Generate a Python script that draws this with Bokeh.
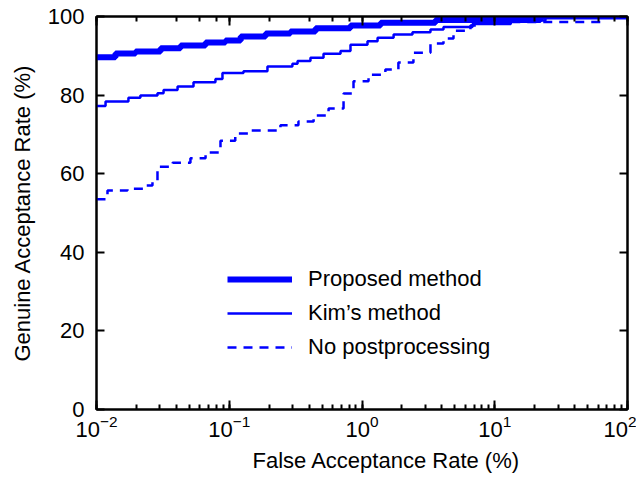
from bokeh.plotting import figure
from bokeh.models import LogAxis, LinearAxis, Title, CustomJSTickFormatter
from bokeh.embed import file_html
from bokeh.resources import INLINE

# ---- data (FAR in %, GAR in %) ----
proposed_far = [0.01, 0.0139, 0.0197, 0.0304, 0.0430, 0.0663, 0.0937, 0.122, 0.188, 0.289,
                0.447, 0.819, 1.38, 3.58, 22.1, 100]
proposed_gar = [89.6, 90.6, 91.1, 91.9, 92.6, 93.4, 93.9, 94.9, 95.7, 96.2,
                97.0, 97.7, 98.4, 99.1, 100, 100]

kim_far = [0.01, 0.0117, 0.0174, 0.0214, 0.0288, 0.0320, 0.0408, 0.0538, 0.0787, 0.0889,
           0.128, 0.194, 0.299, 0.327, 0.409, 0.513, 0.689, 0.819, 1.10, 1.31,
           1.73, 2.40, 3.28, 4.11, 6.80, 13.2, 24.1, 100]
kim_gar = [77.2, 78.4, 79.3, 79.9, 80.5, 81.3, 82.2, 83.3, 84.1, 85.6,
           86.1, 87.3, 88.0, 88.7, 89.5, 90.5, 91.2, 92.8, 93.7, 94.6,
           95.4, 96.0, 96.7, 97.3, 98.1, 99.0, 100, 100]

nopp_far = [0.01, 0.0121, 0.0171, 0.0226, 0.0264, 0.0288, 0.0374, 0.0510, 0.0663, 0.0859,
            0.111, 0.145, 0.243, 0.332, 0.432, 0.560, 0.726, 0.863, 1.12, 1.50,
            1.88, 2.44, 3.28, 4.11, 4.89, 6.56, 7.81, 62.6, 100]
nopp_gar = [53.5, 55.7, 56.2, 57.0, 58.3, 61.8, 62.8, 63.9, 65.4, 68.4,
            70.2, 71.0, 72.3, 73.3, 74.8, 76.6, 80.4, 83.5, 85.2, 86.5,
            88.3, 90.8, 93.1, 94.4, 96.4, 97.7, 98.6, 100, 100]

labels = ["Proposed method", "Kim\u2019s method", "No postprocessing"]
y_ticks = [0, 20, 40, 60, 80, 100]

BLUE = "#0000ff"
FONT = "Liberation Sans"

p = figure(width=636, height=483, x_axis_type="log", x_range=(0.01, 100), y_range=(0, 100),
           output_backend="svg", toolbar_location=None,
           min_border_left=96, min_border_right=9, min_border_top=16, min_border_bottom=74)
p.grid.visible = False
p.outline_line_color = "black"
p.outline_line_width = 2

p.step(nopp_far, nopp_gar, mode="after", line_color=BLUE, line_width=2.5,
       line_dash="9 7", legend_label=labels[2])
p.step(kim_far, kim_gar, mode="after", line_color=BLUE, line_width=2.5,
       legend_label=labels[1])
p.step(proposed_far, proposed_gar, mode="after", line_color=BLUE, line_width=6,
       legend_label=labels[0])

# mirror axes (no labels)
p.add_layout(LogAxis(formatter=CustomJSTickFormatter(code="return ''")), "above")
p.add_layout(LinearAxis(formatter=CustomJSTickFormatter(code="return ''")), "right")

for ax in p.axis:
    ax.axis_line_width = 2
    ax.major_tick_line_width = 2
    ax.minor_tick_line_width = 2
    ax.major_tick_out = 0
    ax.minor_tick_out = 0
    ax.major_label_text_font = FONT
    ax.major_label_text_font_size = "22px"
    ax.major_label_text_color = "black"
    ax.axis_label_text_font = FONT
    ax.axis_label_text_font_size = "22px"
    ax.axis_label_text_font_style = "normal"
    ax.axis_label_text_color = "black"

for ax in p.xaxis:
    ax.major_tick_in = 9
    ax.minor_tick_in = 5
for ax in p.yaxis:
    ax.major_tick_in = 8
    ax.minor_tick_in = 0
    ax.ticker = y_ticks

p.xaxis[0].major_label_standoff = 22
p.yaxis[0].major_label_standoff = 12
p.yaxis[0].axis_label = "Genuine Acceptance Rate (%)"
p.yaxis[0].axis_label_standoff = 10

for ax in (p.above[0], p.right[0]):
    ax.major_label_standoff = 0

p.add_layout(Title(text="False Acceptance Rate (%)", align="left", offset=156,
                   text_font=FONT, text_font_size="22px", text_font_style="normal",
                   text_color="black", standoff=12), "below")

lg = p.legend[0]
lg.location = (131, 49)
lg.label_text_font = FONT
lg.label_text_font_size = "22px"
lg.label_text_color = "black"
lg.glyph_width = 65
lg.glyph_height = 26
lg.label_standoff = 16
lg.spacing = 8
lg.padding = 0
lg.margin = 0
lg.border_line_color = None
lg.background_fill_alpha = 0
lg.items = [lg.items[2], lg.items[1], lg.items[0]]

open("out.html", "w").write(file_html(p, INLINE))
